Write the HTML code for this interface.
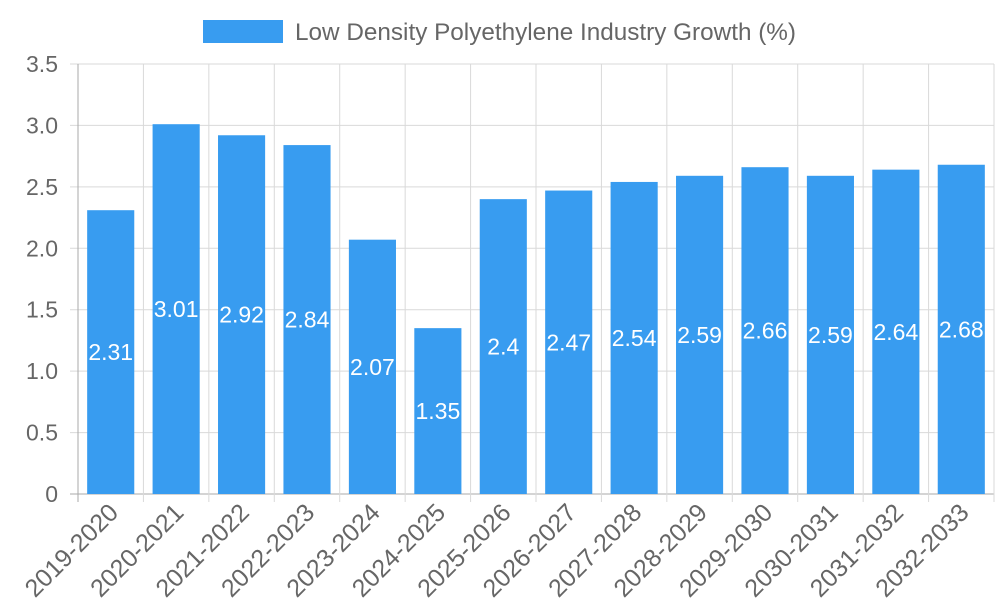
<!DOCTYPE html>
<html><head><meta charset="utf-8"><style>
body{margin:0;background:#fff;}
svg text{font-family:"Liberation Sans",sans-serif;}
</style></head><body>
<svg id="chart" width="1000" height="600"></svg>
<script>
const categories=["2019-2020","2020-2021","2021-2022","2022-2023","2023-2024","2024-2025","2025-2026","2026-2027","2027-2028","2028-2029","2029-2030","2030-2031","2031-2032","2032-2033"];
const values=[2.31,3.01,2.92,2.84,2.07,1.35,2.4,2.47,2.54,2.59,2.66,2.59,2.64,2.68];
const yTicks=[0,0.5,1,1.5,2,2.5,3,3.5];
const yTickLabels=["0","0.5","1.0","1.5","2.0","2.5","3.0","3.5"];
const svg=document.getElementById('chart');
const NS='http://www.w3.org/2000/svg';
const L=78,R=994,T=64,B=494,yMax=3.5;
const y=v=>B-(v/yMax)*(B-T);
const step=(R-L)/categories.length;
const x=i=>L+i*step;
function mk(t,a,txt){const e=document.createElementNS(NS,t);for(const k in a)e.setAttribute(k,a[k]);if(txt!==undefined)e.textContent=txt;svg.appendChild(e);return e;}
yTicks.forEach((v,i)=>{
 const g=mk('line',{x1:70,x2:R,y1:y(v),y2:y(v),stroke:i==0?'#aaa':'#d9d9d9','stroke-width':1});
 
 
 const t=mk('text',{x:58,y:y(v)+8,'text-anchor':'end','font-size':23,fill:'#666'},yTickLabels[i]);
 
 
});
for(let i=0;i<=categories.length;i++){
 const g=mk('line',{x1:x(i),x2:x(i),y1:T,y2:B+8,stroke:i==0?'#aaa':'#d9d9d9','stroke-width':1});
 
 
}
categories.forEach((c,i)=>{
 const bw=step*0.72,cx=x(i)+step/2;
 const r=mk('rect',{x:cx-bw/2,y:y(values[i]),width:bw,height:B-y(values[i]),fill:'#389cf0'});
 
 
 const vl=mk('text',{x:cx,y:(y(values[i])+B)/2+8,'text-anchor':'middle','font-size':23,fill:'#fff'},String(values[i]));
 
 
 const tx=cx+9,ty=B+20;
 const xl=mk('text',{x:tx,y:ty,'text-anchor':'end','font-size':25,fill:'#666',transform:`rotate(-45 ${tx} ${ty})`},c);
 
 
});
const lr=mk('rect',{x:203,y:20,width:80,height:23,fill:'#389cf0'});


const lt=mk('text',{x:295,y:40,'font-size':24.3,fill:'#666'},'Low Density Polyethylene Industry Growth (%)');


</script>
</body></html>
